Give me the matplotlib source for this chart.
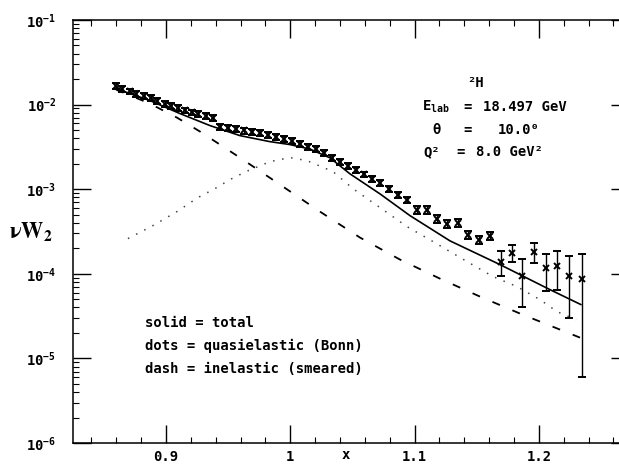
import matplotlib
matplotlib.use('Agg')
import matplotlib.pyplot as plt
import numpy as np
from matplotlib.ticker import FixedLocator, LogLocator, NullFormatter, FuncFormatter, MultipleLocator

plt.rcParams['font.family'] = ['DejaVu Sans Mono', 'DejaVu Sans']
plt.rcParams['font.weight'] = 'bold'
plt.rcParams['mathtext.fontset'] = 'custom'
plt.rcParams['mathtext.rm'] = 'DejaVu Sans Mono:bold'
plt.rcParams['mathtext.it'] = 'DejaVu Sans Mono:bold'
plt.rcParams['mathtext.bf'] = 'DejaVu Sans Mono:bold'
plt.rcParams['mathtext.default'] = 'rm'

# ---- data ----
x_data = [0.860, 0.865, 0.871, 0.876, 0.882, 0.888, 0.893, 0.899, 0.904, 0.910,
          0.915, 0.921, 0.926, 0.932, 0.938,
          0.9434, 0.9499, 0.9563, 0.9628, 0.9692, 0.9756, 0.9821, 0.9885, 0.9949, 1.0014,
          1.0078, 1.0142, 1.0207, 1.0271, 1.0335, 1.0400, 1.0464, 1.0529, 1.0593, 1.0657,
          1.0722, 1.0794, 1.0866, 1.0939,
          1.1019, 1.1100, 1.1180, 1.1261, 1.1349, 1.1430, 1.1518, 1.1607,
          1.1695, 1.1784, 1.1864, 1.1961, 1.2057, 1.2146, 1.2242, 1.2347]
y_data = [0.01654, 0.01538, 0.01432, 0.01342, 0.01270, 0.01203, 0.01115, 0.01027, 0.00960, 0.00904,
          0.00856, 0.00809, 0.00768, 0.00731, 0.00698,
          0.005495, 0.005304, 0.005119, 0.004942, 0.004770, 0.004579, 0.004360, 0.004140, 0.003931, 0.003703,
          0.003431, 0.003188, 0.002962, 0.002708, 0.002350, 0.002119, 0.001875, 0.001681, 0.001496, 0.001334,
          0.001197, 0.001008, 0.000863, 0.000753,
          5.74e-4, 5.74e-4, 4.49e-4, 3.92e-4, 4.03e-4, 2.91e-4, 2.54e-4, 2.83e-4,
          1.394e-4, 1.781e-4, 9.52e-5, 1.830e-4, 1.184e-4, 1.250e-4, 9.52e-5, 8.77e-5]
y_err = [0.00132, 0.00123, 0.00115, 0.00107, 0.00102, 0.00096, 0.00089, 0.00082, 0.00077, 0.00072,
         0.00068, 0.00065, 0.00061, 0.00058, 0.00056,
         0.00044, 0.00042, 0.00041, 0.00040, 0.00038, 0.00037, 0.00035, 0.00033, 0.00031, 0.00030,
         0.00027, 0.00026, 0.00024, 0.00022, 0.00019, 0.00017, 0.00015, 0.00013, 0.00012, 0.00011,
         0.00010, 0.00008, 0.00007, 0.00006,
         6.0e-5, 6.0e-5, 5.0e-5, 4.3e-5, 4.4e-5, 3.0e-5, 2.6e-5, 2.9e-5,
         4.6e-5, 4.2e-5, 5.5e-5, 4.9e-5, 5.5e-5, 6.0e-5, 6.5e-5, 8.16e-5]

x_total = [0.8598, 0.8871, 0.9113, 0.9354, 0.9595, 0.9836, 0.9997, 1.0158, 1.0319, 1.0480,
           1.0722, 1.0963, 1.1285, 1.1687, 1.2089, 1.2339]
y_total = [0.01546, 0.01115, 0.00783, 0.00565, 0.00430, 0.00365, 0.00337, 0.00298, 0.00235, 0.00152,
           0.000880, 0.000487, 0.000245, 0.0001285, 0.0000650, 0.0000432]

x_quasi = [0.8694, 0.8895, 0.9088, 0.9257, 0.9394, 0.9515, 0.9644, 0.9837, 0.9998, 1.0134,
           1.0344, 1.0504, 1.0722, 1.0939, 1.1148, 1.1422, 1.1631, 1.1824, 1.2009, 1.2146, 1.2299]
y_quasi = [2.606e-4, 3.713e-4, 5.43e-4, 7.96e-4, 1.016e-3, 1.299e-3, 1.614e-3, 2.119e-3, 2.363e-3, 2.178e-3,
           1.614e-3, 1.016e-3, 6.06e-4, 3.613e-4, 2.403e-4, 1.394e-4, 9.27e-5, 7.06e-5, 4.95e-5, 3.57e-5, 2.87e-5]

x_inel = [0.8598, 0.8871, 0.9088, 0.9274, 0.9595, 0.9917, 1.0239, 1.0561, 1.0883, 1.1204,
          1.1526, 1.1848, 1.2331]
y_inel = [0.01504, 0.01027, 0.00702, 0.00480, 0.00236, 0.001134, 0.000543, 0.000268, 0.0001472, 0.0000877,
          0.0000538, 0.0000339, 0.0000176]

x_ticks = [0.9, 1.0, 1.1, 1.2]
x_ticklabels = ['0.9', '1', '1.1', '1.2']

legend_lines = ['solid = total', 'dots = quasielastic (Bonn)', 'dash = inelastic (smeared)']

# ---- figure ----
W, H = 619, 465
fig = plt.figure(figsize=(W / 100, H / 100), dpi=100)
ax_l, ax_r, ax_t, ax_b = 73, 629, 20, 443
ax = fig.add_axes([ax_l / W, (H - ax_b) / H, (ax_r - ax_l) / W, (ax_b - ax_t) / H])
ax.set_yscale('log')
ax.set_xlim(0.8252, 1.2725)
ax.set_ylim(1e-6, 1e-1)

ax.plot(x_total, y_total, color='black', lw=1.2, solid_capstyle='round')
ax.plot(x_quasi, y_quasi, color='#444444', lw=1.1, linestyle=(0, (1, 5)))
ax.plot(x_inel, y_inel, color='black', lw=1.3, linestyle=(0, (4.5, 7.5)))
ax.errorbar(x_data, y_data, yerr=y_err, fmt='x', color='black', ms=5, mew=1.4,
            elinewidth=1.0, capsize=3, capthick=1.0)

# ticks
ax.xaxis.set_major_locator(FixedLocator(x_ticks))
ax.set_xticklabels(x_ticklabels)
ax.xaxis.set_minor_locator(MultipleLocator(0.02))
ax.yaxis.set_major_locator(LogLocator(base=10, numticks=10))
ax.yaxis.set_minor_locator(LogLocator(base=10, subs=np.arange(2, 10), numticks=20))
ax.yaxis.set_minor_formatter(NullFormatter())
ax.yaxis.set_major_formatter(FuncFormatter(lambda v, p: r'$10^{%d}$' % int(round(np.log10(v)))))
ax.tick_params(which='major', direction='in', length=13, width=1.0, top=True, right=True, labelsize=10)
ax.tick_params(axis='y', which='major', pad=12)
ax.tick_params(axis='x', which='major', pad=5)
ax.tick_params(which='minor', direction='in', length=4.5, width=0.8, top=True, right=True)
for s in ax.spines.values():
    s.set_linewidth(1.1)

# axis labels
ax.text(1.045, -0.012, 'x', transform=ax.get_xaxis_transform(), ha='center', va='top', fontsize=10)
fig.text(31 / W, (H - 232) / H, r'$\nu\mathrm{W}_2$', math_fontfamily='stix', fontsize=16,
         ha='center', va='center')

# annotations
def axfrac(px, py):
    return (px - ax_l) / (ax_r - ax_l), (ax_b - py) / (ax_b - ax_t)

fs = 10
ax.text(*axfrac(476, 83), '²H', transform=ax.transAxes, ha='center', va='center', fontsize=fs)
ax.text(*axfrac(422, 107), r'E$_{\rm lab}$', transform=ax.transAxes, ha='left', va='center', fontsize=fs)
ax.text(*axfrac(468, 107), '=', transform=ax.transAxes, ha='center', va='center', fontsize=fs)
ax.text(*axfrac(483, 107), '18.497 GeV', transform=ax.transAxes, ha='left', va='center', fontsize=fs)
ax.text(*axfrac(432, 130), 'θ', transform=ax.transAxes, ha='left', va='center', fontsize=fs)
ax.text(*axfrac(468, 130), '=', transform=ax.transAxes, ha='center', va='center', fontsize=fs)
ax.text(*axfrac(498, 130), '10.0⁰', transform=ax.transAxes, ha='left', va='center', fontsize=fs)
ax.text(*axfrac(423, 152), 'Q²', transform=ax.transAxes, ha='left', va='center', fontsize=fs)
ax.text(*axfrac(461, 152), '=', transform=ax.transAxes, ha='center', va='center', fontsize=fs)
ax.text(*axfrac(476, 152), '8.0 GeV²', transform=ax.transAxes, ha='left', va='center', fontsize=fs)

for i, line in enumerate(legend_lines):
    ax.text(*axfrac(145, 323 + 23 * i), line, transform=ax.transAxes, ha='left', va='center', fontsize=fs)

fig.savefig('out.png', dpi=100)
